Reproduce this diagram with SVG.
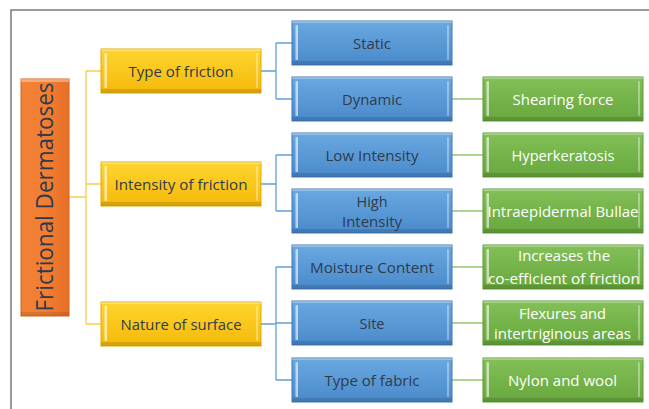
<svg xmlns="http://www.w3.org/2000/svg" width="649" height="409" viewBox="0 0 649 409">
<defs>
<linearGradient id="gY" x1="0" y1="0" x2="0" y2="1"><stop offset="0" stop-color="#FFD52E"/><stop offset="1" stop-color="#F4B90A"/></linearGradient>
<linearGradient id="gB" x1="0" y1="0" x2="0" y2="1"><stop offset="0" stop-color="#69A8E0"/><stop offset="1" stop-color="#4A8ACB"/></linearGradient>
<linearGradient id="gG" x1="0" y1="0" x2="0" y2="1"><stop offset="0" stop-color="#83C158"/><stop offset="1" stop-color="#67A73D"/></linearGradient>
<linearGradient id="gO" x1="0" y1="0" x2="1" y2="0"><stop offset="0" stop-color="#F08236"/><stop offset="0.5" stop-color="#F37E32"/><stop offset="1" stop-color="#E66F25"/></linearGradient>
<g id="bev">
<rect x="0" y="0" width="160" height="2" fill="#fff" opacity="0.3"/>
<rect x="0" y="40" width="160" height="4" fill="#000" opacity="0.12"/>
<rect x="3.5" y="4" width="2.5" height="35" rx="1" fill="#fff" opacity="0.6"/>
<rect x="155" y="4" width="2" height="35" rx="1" fill="#fff" opacity="0.35"/>
</g>
</defs>
<style>
.fr{fill:none;stroke:#7a7a7a;stroke-width:1.5}
.y{fill:url(#gY);stroke:#E3A90A;stroke-width:1}
.b{fill:url(#gB);stroke:#3E79B4;stroke-width:1}
.g{fill:url(#gG);stroke:#5E9837;stroke-width:1}
.o{fill:url(#gO);stroke:#D0641F;stroke-width:1}
.cy{fill:none;stroke:#F7CD4E;stroke-width:1.3}
.cb{fill:none;stroke:#5F9FD8;stroke-width:1.3}
.cg{fill:none;stroke:#92C86E;stroke-width:1.3}
text{font-family:"Open Sans","Liberation Sans",sans-serif;font-size:15px;text-anchor:middle}
.td{fill:#2F3B4C}
.tw{fill:#ffffff}
.sm{font-size:14.5px}
</style>
<rect width="649" height="409" fill="#ffffff"/>
<path class="fr" d="M11,409 V10 H649"/>
<g id="connectors">
<path class="cy" d="M69,197 H86 M86,71 V324 M86,71 H101 M86,184 H101 M86,324 H101"/>
<path class="cb" d="M261,71 H276 M276,43 V99 M276,43 H292 M276,99 H292"/>
<path class="cb" d="M261,184 H276 M276,155 V211 M276,155 H292 M276,211 H292"/>
<path class="cb" d="M261,324 H276 M276,267 V380 M276,267 H292 M276,323 H292 M276,380 H292"/>
<path class="cg" d="M452,99 H483 M452,155 H483 M452,211 H483 M452,267 H483 M452,323 H483 M452,380 H483"/>
</g>
<g id="root">
<rect class="o" x="21" y="79" width="48" height="237"/>
<rect x="21" y="79" width="48" height="3" fill="#fff" opacity="0.35"/>
<rect x="21" y="312" width="48" height="4" fill="#000" opacity="0.1"/>
<text class="td" transform="translate(53,197) rotate(-90)" style="font-size:24px" textLength="229" lengthAdjust="spacingAndGlyphs">Frictional Dermatoses</text>
</g>
<g id="type-of-friction">
<rect class="y" x="101" y="49" width="160" height="44"/><use href="#bev" x="101" y="49"/>
<text class="td" x="181" y="76.5" textLength="105" lengthAdjust="spacingAndGlyphs">Type of friction</text>
</g>
<g id="intensity-of-friction">
<rect class="y" x="101" y="162" width="160" height="44"/><use href="#bev" x="101" y="162"/>
<text class="td" x="181" y="189.5" textLength="133" lengthAdjust="spacingAndGlyphs">Intensity of friction</text>
</g>
<g id="nature-of-surface">
<rect class="y" x="101" y="302" width="160" height="44"/><use href="#bev" x="101" y="302"/>
<text class="td" x="181" y="329.5" textLength="121" lengthAdjust="spacingAndGlyphs">Nature of surface</text>
</g>
<g id="static">
<rect class="b" x="292" y="21" width="160" height="44"/><use href="#bev" x="292" y="21"/>
<text class="td" x="372" y="48.5" textLength="38" lengthAdjust="spacingAndGlyphs">Static</text>
</g>
<g id="dynamic">
<rect class="b" x="292" y="77" width="160" height="44"/><use href="#bev" x="292" y="77"/>
<text class="td" x="372" y="104.5" textLength="60" lengthAdjust="spacingAndGlyphs">Dynamic</text>
</g>
<g id="low-intensity">
<rect class="b" x="292" y="133" width="160" height="44"/><use href="#bev" x="292" y="133"/>
<text class="td" x="372" y="160.5" textLength="93" lengthAdjust="spacingAndGlyphs">Low Intensity</text>
</g>
<g id="high-intensity">
<rect class="b" x="292" y="189" width="160" height="44"/><use href="#bev" x="292" y="189"/>
<text class="td sm" x="372" y="206.5" textLength="31" lengthAdjust="spacingAndGlyphs">High</text>
<text class="td sm" x="372" y="226.5" textLength="60" lengthAdjust="spacingAndGlyphs">Intensity</text>
</g>
<g id="moisture-content">
<rect class="b" x="292" y="245" width="160" height="44"/><use href="#bev" x="292" y="245"/>
<text class="td" x="372" y="272.5" textLength="124" lengthAdjust="spacingAndGlyphs">Moisture Content</text>
</g>
<g id="site">
<rect class="b" x="292" y="301" width="160" height="44"/><use href="#bev" x="292" y="301"/>
<text class="td" x="372" y="328.5" textLength="25" lengthAdjust="spacingAndGlyphs">Site</text>
</g>
<g id="type-of-fabric">
<rect class="b" x="292" y="358" width="160" height="44"/><use href="#bev" x="292" y="358"/>
<text class="td" x="372" y="385.5" textLength="95" lengthAdjust="spacingAndGlyphs">Type of fabric</text>
</g>
<g id="shearing-force">
<rect class="g" x="483" y="77" width="160" height="44"/><use href="#bev" x="483" y="77"/>
<text class="tw" x="563" y="104.5" textLength="101" lengthAdjust="spacingAndGlyphs">Shearing force</text>
</g>
<g id="hyperkeratosis">
<rect class="g" x="483" y="133" width="160" height="44"/><use href="#bev" x="483" y="133"/>
<text class="tw" x="563" y="160.5" textLength="103" lengthAdjust="spacingAndGlyphs">Hyperkeratosis</text>
</g>
<g id="intraepidermal-bullae">
<rect class="g" x="483" y="189" width="160" height="44"/><use href="#bev" x="483" y="189"/>
<text class="tw" x="563" y="216.5" textLength="151" lengthAdjust="spacingAndGlyphs">Intraepidermal Bullae</text>
</g>
<g id="increases-coefficient">
<rect class="g" x="483" y="245" width="160" height="44"/><use href="#bev" x="483" y="245"/>
<text class="tw" x="564" y="261" textLength="92" lengthAdjust="spacingAndGlyphs">Increases the</text>
<text class="tw" x="564" y="284" textLength="152" lengthAdjust="spacingAndGlyphs">co-efficient of friction</text>
</g>
<g id="flexures">
<rect class="g" x="483" y="301" width="160" height="44"/><use href="#bev" x="483" y="301"/>
<text class="tw sm" x="562.5" y="318.5" textLength="87" lengthAdjust="spacingAndGlyphs">Flexures and</text>
<text class="tw sm" x="562.5" y="338.5" textLength="137" lengthAdjust="spacingAndGlyphs">intertriginous areas</text>
</g>
<g id="nylon-and-wool">
<rect class="g" x="483" y="358" width="160" height="44"/><use href="#bev" x="483" y="358"/>
<text class="tw" x="562.5" y="385.5" textLength="109" lengthAdjust="spacingAndGlyphs">Nylon and wool</text>
</g>
</svg>
